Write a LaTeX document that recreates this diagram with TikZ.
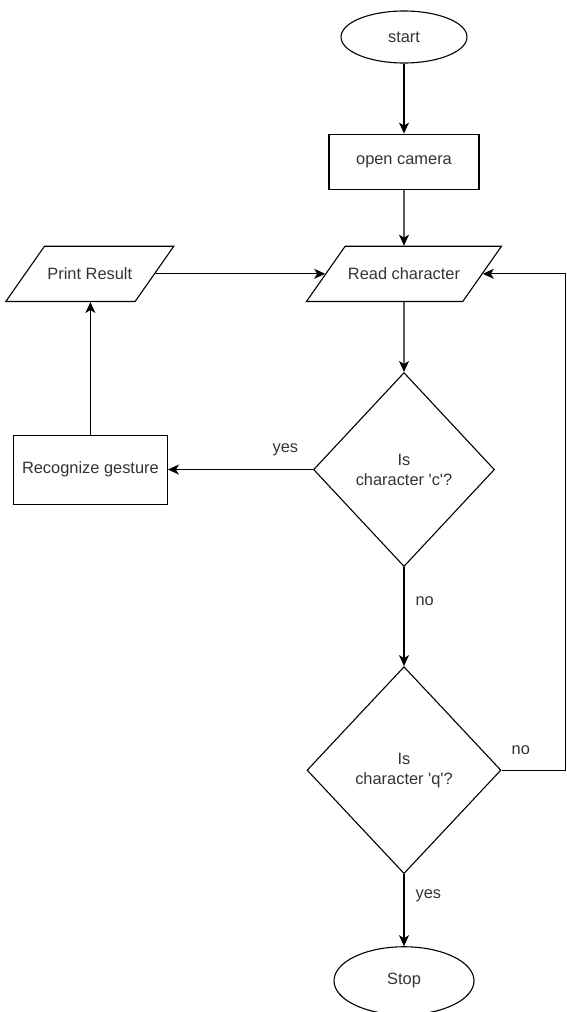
\documentclass[tikz,border=0pt]{standalone}
\usepackage{fontspec}
\setmainfont{Liberation Sans}
\usetikzlibrary{arrows.meta,shapes.geometric}
\usetikzlibrary{positioning}
\newcommand{\sq}{\textquotesingle}
\tikzstyle{terminal} = [ellipse, minimum width=126pt, minimum height=52pt, inner sep=0pt, text centered, draw=black, line width=1.1pt, text=black!80]
\tikzstyle{process} = [rectangle, minimum width=150pt, minimum height=55pt, inner sep=0pt, text centered, draw=black, line width=1.1pt, text=black!80]
\tikzstyle{io} = [trapezium, trapezium left angle=55, trapezium right angle=125, trapezium stretches body, inner xsep=0pt, inner ysep=21.6pt, minimum height=55pt, text centered, draw=black, line width=1.1pt, text=black!80]
\tikzstyle{decision} = [diamond, minimum width=181pt, minimum height=194pt, inner sep=0pt, align=center, draw=black, line width=1.1pt, text=black!80]
\tikzstyle{flow} = [-{Stealth[length=11pt,width=10pt,inset=3pt]}, line width=1.1pt, draw=black]
\tikzstyle{lbl} = [inner sep=0pt, text=black!80]

\begin{document}
\begin{tikzpicture}[x=1pt, y=1pt, node distance=70pt, font=\fontsize{16.4}{20}\selectfont]
 \useasboundingbox (0,0) rectangle (566,-1012);

 \node (start) [terminal] at (404,-37) {start};
 \node (opencam) [process, below=70pt of start] {open camera};
 \node (readchar) [io, minimum width=195pt, below=56pt of opencam] {Read character};
 \node (printres) [io, minimum width=168pt, left=170pt of readchar] {Print Result};
 \node (isc) [decision, below=70pt of readchar] {Is\\character \sq c\sq?};
 \node (recog) [process, minimum width=154pt, minimum height=69pt, left=145pt of isc] {Recognize gesture};
 \node (isq) [decision, minimum width=194pt, minimum height=207pt, below=99pt of isc] {Is\\character \sq q\sq?};
 \node (stop) [terminal, minimum width=140pt, minimum height=68pt, below=72pt of isq] {Stop};
 \coordinate [right=64pt of isq.east] (loopq);

 \draw [flow] (start) -- (opencam);
 \draw [flow] (opencam) -- (readchar);
 \draw [flow] (readchar) -- (isc);
 \draw [flow] (isc.west) -- node (yesc) [lbl, pos=0.19, above=13pt] {yes} (recog.east);
 \draw [flow] (recog.north) -- (recog.north |- printres.south);
 \draw [flow] (printres.east) -- (readchar.west);
 \draw [flow] (isc.south) -- node (noc) [lbl, pos=0.34, right=11pt] {no} (isq.north);
 \draw [flow] (isq.east) -- node (noq) [lbl, pos=0.3, above=15pt] {no} (loopq) |- (readchar.east);
 \draw [flow] (isq.south) -- node (yesq) [lbl, pos=0.3, right=11pt] {yes} (stop.north);

\end{tikzpicture}
\end{document}
